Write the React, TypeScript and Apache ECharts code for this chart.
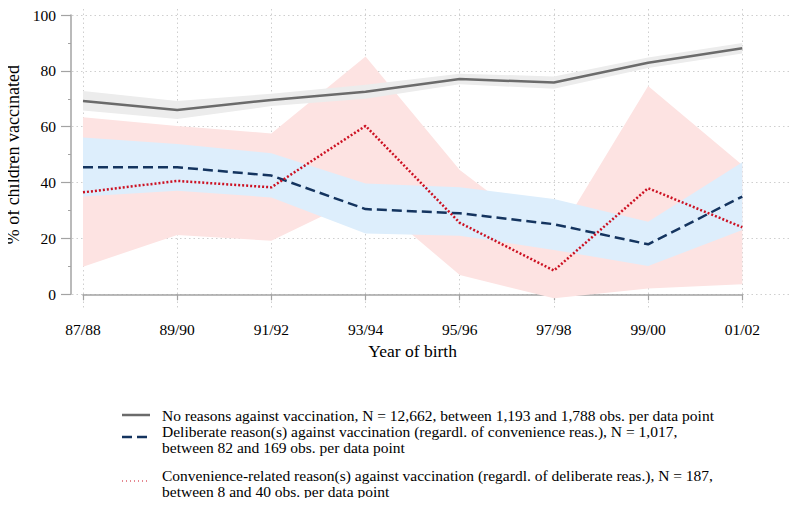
import React, { useEffect, useRef } from "react";
import * as echarts from "echarts";

const categories = ["87/88", "89/90", "91/92", "93/94", "95/96", "97/98", "99/00", "01/02"];

const noReason = [69.2, 66.0, 69.6, 72.5, 77.1, 75.8, 82.9, 88.1];
const noReasonLow = [65.8, 62.8, 67.4, 70.0, 75.2, 73.6, 81.0, 86.2];
const noReasonHigh = [72.8, 69.2, 71.8, 75.0, 79.0, 78.0, 84.8, 90.0];

const deliberate = [45.5, 45.5, 42.5, 30.5, 29.0, 25.1, 17.9, 35.0];
const deliberateLow = [35.0, 37.1, 34.7, 21.8, 21.0, 15.9, 10.1, 23.0];
const deliberateHigh = [56.1, 53.8, 50.5, 39.7, 38.3, 34.1, 26.0, 47.3];

const convenience = [36.5, 40.6, 38.3, 60.3, 25.6, 8.5, 38.0, 24.0];
const convenienceLow = [9.9, 21.2, 19.2, 35.5, 6.9, -1.4, 2.1, 3.6];
const convenienceHigh = [63.4, 60.3, 57.6, 85.1, 44.5, 19.0, 74.6, 46.3];

const yTicks = [0, 20, 40, 60, 80, 100];

const legendRows = [
  ["No reasons against vaccination, N = 12,662, between 1,193 and 1,788 obs. per data point"],
  [
    "Deliberate reason(s) against vaccination (regardl. of convenience reas.), N = 1,017,",
    "between 82 and 169 obs. per data point",
  ],
  [
    "Convenience-related reason(s) against vaccination (regardl. of deliberate reas.), N = 187,",
    "between 8 and 40 obs. per data point",
  ],
];

const FONT = "'Liberation Serif', 'DejaVu Serif', serif";
const GRAY = "#6b6b6b";
const NAVY = "#14345f";
const RED = "#cc1122";

function band(name: string, low: number[], high: number[], color: string, clip: boolean) {
  const diff = high.map((h, i) => +(h - low[i]).toFixed(2));
  return [
    {
      name: name + "_low",
      type: "line",
      stack: name,
      stackStrategy: "all",
      data: low,
      symbol: "none",
      lineStyle: { opacity: 0 },
      silent: true,
      clip,
      z: 1,
    },
    {
      name: name + "_band",
      type: "line",
      stack: name,
      stackStrategy: "all",
      data: diff,
      symbol: "none",
      lineStyle: { opacity: 0 },
      areaStyle: { color, opacity: 1 },
      silent: true,
      clip,
      z: 1,
    },
  ];
}

export default function App() {
  const ref = useRef<HTMLDivElement>(null);

  useEffect(() => {
    if (!ref.current) return;
    const chart = echarts.init(ref.current, undefined, { renderer: "svg" });

    const gridTop = 15;
    const gridBottom = 211.7;
    const gridLeft = 83;
    const gridRight = 57.7;

    const legendGraphics: any[] = [];
    const rowY = [415, 431, 475];
    const iconY = [415, 437, 481];
    const iconX1 = 122;
    const iconX2 = 150;
    const styles = [
      { stroke: GRAY, lineWidth: 2.5 },
      { stroke: NAVY, lineWidth: 2.5, lineDash: [10, 5] },
      { stroke: RED, lineWidth: 1, lineDash: [1, 3] },
    ];
    legendRows.forEach((lines, i) => {
      legendGraphics.push({
        type: "line",
        shape: { x1: iconX1, y1: iconY[i], x2: iconX2, y2: iconY[i] },
        style: styles[i],
        silent: true,
      });
      lines.forEach((t, j) => {
        legendGraphics.push({
          type: "text",
          x: 162,
          y: rowY[i] + j * 16.5,
          style: {
            text: t,
            font: `15.5px ${FONT}`,
            fill: "#000",
            verticalAlign: "middle",
            textAlign: "left",
          },
          silent: true,
        });
      });
    });

    chart.setOption({
      animation: false,
      backgroundColor: "#fff",
      grid: [
        { left: gridLeft, right: gridRight, top: gridTop, bottom: gridBottom, outerBoundsMode: "none", containLabel: false },
        { left: 72, right: 0, top: gridTop, bottom: gridBottom, outerBoundsMode: "none", containLabel: false },
        { left: gridLeft, right: gridRight, top: 0, bottom: 198, outerBoundsMode: "none", containLabel: false },
      ],
      xAxis: [
        {
          gridIndex: 0,
          type: "category",
          data: categories,
          boundaryGap: false,
          offset: 17,
          axisLine: { show: true, lineStyle: { color: "#a3a3a3", width: 1.5 } },
          axisTick: { show: true, length: 6, lineStyle: { color: "#a3a3a3", width: 1.2 } },
          axisLabel: { color: "#000", fontFamily: FONT, fontSize: 15.5, margin: 10 },
          splitLine: { show: false },
          name: "Year of birth",
          nameLocation: "middle",
          nameGap: 30,
          nameTextStyle: { color: "#000", fontFamily: FONT, fontSize: 17.5 },
        },
        {
          gridIndex: 1,
          type: "value",
          min: 0,
          max: 1,
          axisLine: { show: false },
          axisTick: { show: false },
          axisLabel: { show: false },
          splitLine: { show: false },
        },
        {
          gridIndex: 2,
          type: "category",
          data: categories,
          boundaryGap: false,
          axisLine: { show: false },
          axisTick: { show: false },
          axisLabel: { show: false },
          splitLine: { show: true, lineStyle: { color: "#cfcfcf", width: 1, type: [1.5, 3] } },
        },
      ],
      yAxis: [
        {
          gridIndex: 0,
          type: "value",
          min: yTicks[0],
          max: yTicks[yTicks.length - 1],
          interval: 20,
          offset: 12,
          axisLine: { show: true, lineStyle: { color: "#a3a3a3", width: 1.5 } },
          axisTick: { show: true, length: 10, lineStyle: { color: "#a3a3a3", width: 1.2 } },
          minorTick: { show: true, splitNumber: 2, length: 3, lineStyle: { color: "#a3a3a3", width: 1 } },
          axisLabel: { color: "#000", fontFamily: FONT, fontSize: 15.5, margin: 15 },
          splitLine: { show: false },
          name: "% of children vaccinated",
          nameLocation: "middle",
          nameGap: 46,
          nameRotate: 90,
          nameTextStyle: { color: "#000", fontFamily: FONT, fontSize: 18 },
        },
        {
          gridIndex: 1,
          type: "value",
          min: yTicks[0],
          max: yTicks[yTicks.length - 1],
          interval: 20,
          axisLine: { show: false },
          axisTick: { show: false },
          axisLabel: { show: false },
          splitLine: { show: true, lineStyle: { color: "#cfcfcf", width: 1, type: [1.5, 3] } },
        },
        {
          gridIndex: 2,
          type: "value",
          min: 0,
          max: 1,
          axisLine: { show: false },
          axisTick: { show: false },
          axisLabel: { show: false },
          splitLine: { show: false },
        },
      ],
      series: [
        ...band("conv", convenienceLow, convenienceHigh, "#fde3e2", false),
        ...band("delib", deliberateLow, deliberateHigh, "#ddeefc", true),
        ...band("none", noReasonLow, noReasonHigh, "#ececec", true),
        {
          name: "No reasons",
          type: "line",
          data: noReason,
          symbol: "none",
          lineStyle: { color: GRAY, width: 2.5 },
          z: 3,
        },
        {
          name: "Deliberate",
          type: "line",
          data: deliberate,
          symbol: "none",
          lineStyle: { color: NAVY, width: 2.5, type: [10, 5] },
          z: 3,
        },
        {
          name: "Convenience",
          type: "line",
          data: convenience,
          symbol: "none",
          lineStyle: { color: RED, width: 2.5, type: [2, 2], cap: "butt" },
          z: 3,
        },
      ],
      graphic: legendGraphics,
    });

    return () => chart.dispose();
  }, []);

  return <div ref={ref} style={{ width: 800, height: 506, margin: -8 }} />;
}
